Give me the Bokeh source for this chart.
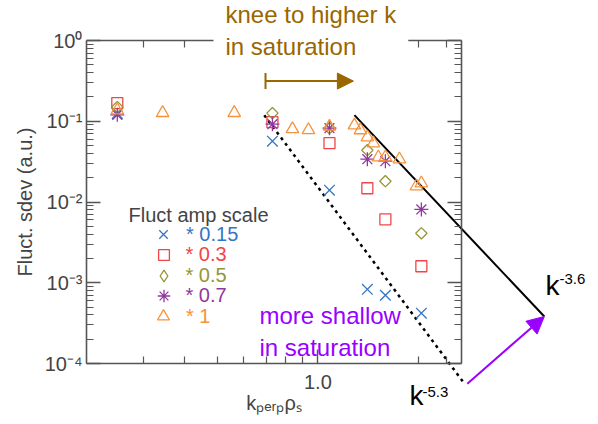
import math
from bokeh.plotting import figure
from bokeh.models import (Range1d, LogAxis, FixedTicker, Label, Arrow, NormalHead,
                          TeeHead, Legend, LegendItem)
from bokeh.embed import file_html
from bokeh.resources import INLINE

# ---------------- data ----------------
k_all = [0.251, 0.731, 1.083, 1.406, 1.592, 2.04]
sdev_015 = [0.125, 0.0567, 0.0140, 0.00083, 0.00070, 0.00042]
sdev_03 = [0.168, 0.0975, 0.0535, 0.0148, 0.0061, 0.0016]
sdev_05 = [0.150, 0.126, 0.082, 0.0438, 0.0181, 0.0041]
sdev_07 = [0.120, 0.092, 0.082, 0.0339, 0.032, 0.0081]
k_amp1 = [0.251, 0.343, 0.562, 0.839, 0.937, 1.083, 1.286, 1.34, 1.406,
          1.466, 1.517, 1.592, 1.754, 1.972, 2.04]
sdev_1 = [0.137, 0.127, 0.127, 0.080, 0.078, 0.086, 0.089, 0.0776, 0.0635,
          0.0535, 0.0359, 0.0359, 0.0339, 0.0157, 0.0171]

amp_labels = ["0.15", "0.3", "0.5", "0.7", "1"]

# reference slope lines / arrows (data coords: start, end)
slope36_k = [1.286, 4.76]
slope36_s = [0.119, 3.82e-4]
slope53_k = [0.691, 2.745]
slope53_s = [0.119, 5.63e-5]
knee_arrow_k = [0.697, 1.277]
knee_arrow_s = [0.3144, 0.3144]
shallow_arrow_k = [2.80, 4.76]
shallow_arrow_s = [5.63e-5, 3.82e-4]

y_major = [1e-4, 1e-3, 1e-2, 1e-1, 1.0]
y_minor = [m * 10.0 ** e for e in range(-4, 0) for m in range(2, 10)]
y_labels = ["10⁻⁴", "10⁻³", "10⁻²", "10⁻¹", "10⁰"]
x_major = [1.0]
x_minor = [0.3, 0.4, 0.5, 0.6, 0.7, 0.8, 0.9, 2.0, 2.43]
x_labels = ["1.0"]

# ---------------- style / layout ----------------
FONT = "Liberation Sans"
BLUE = "#3574c2"
RED = "#f0454a"
OLIVE = "#959535"
PURPLE = "#90399d"
ORANGE = "#f7923a"
BROWN = "#996600"
VIOLET = "#9900ff"
GRAY = "#444444"
AXC = "#555555"

W, H = 598, 424
# axes box (where the four axes are drawn) in canvas pixels
BOX_L, BOX_T, BOX_R, BOX_B = 86, 40, 461, 363
X0, X1 = 0.203, 2.69      # x extent of the axes box
Y0, Y1 = 1e-4, 1.0        # y extent of the axes box

# the plotting frame is the whole canvas so that guide lines / notes may
# run outside the axes box; the axes are pinned to the box edges.
ppd_x = (BOX_R - BOX_L) / math.log10(X1 / X0)
ppd_y = (BOX_B - BOX_T) / math.log10(Y1 / Y0)
XL = X0 * 10 ** (-BOX_L / ppd_x)
XH = X0 * 10 ** ((W - BOX_L) / ppd_x)
YL = Y0 * 10 ** (-(H - BOX_B) / ppd_y)
YH = Y1 * 10 ** (BOX_T / ppd_y)


def sx(px):
    return px


def sy(py):
    return H - py


p = figure(width=W, height=H, x_axis_type="log", y_axis_type="log",
           x_range=Range1d(XL, XH), y_range=Range1d(YL, YH),
           output_backend="svg", toolbar_location=None,
           min_border=0, min_border_left=0, min_border_right=0,
           min_border_top=0, min_border_bottom=0)
p.grid.visible = False
p.outline_line_color = None

bottom_axis = p.below[0]
left_axis = p.left[0]
top_axis = LogAxis()
right_axis = LogAxis()
p.add_layout(top_axis, "above")
p.add_layout(right_axis, "right")

bottom_axis.fixed_location = Y0
top_axis.fixed_location = Y1
left_axis.fixed_location = X0
right_axis.fixed_location = X1
for ax in [bottom_axis, top_axis]:
    ax.ticker = FixedTicker(ticks=x_major, minor_ticks=x_minor)
    ax.bounds = (X0, X1)
for ax in [left_axis, right_axis]:
    ax.ticker = FixedTicker(ticks=y_major, minor_ticks=y_minor)
    ax.bounds = (Y0, Y1)

for ax in [bottom_axis, top_axis, left_axis, right_axis]:
    ax.axis_line_color = AXC
    ax.axis_line_width = 1.6
    ax.major_tick_line_color = AXC
    ax.minor_tick_line_color = AXC
    ax.major_tick_line_width = 1.4
    ax.minor_tick_line_width = 1.2
    ax.major_tick_in = 14
    ax.major_tick_out = 0
    ax.minor_tick_in = 7
    ax.minor_tick_out = 0
    ax.major_label_text_font = FONT
    ax.major_label_text_font_size = "20px"
    ax.major_label_text_color = GRAY
    ax.axis_label_text_font = FONT
    ax.axis_label_text_font_size = "20px"
    ax.axis_label_text_font_style = "normal"
    ax.axis_label_text_color = GRAY

left_axis.major_label_overrides = dict(zip(y_major, y_labels))
left_axis.major_label_standoff = 4
left_axis.axis_label = "Fluct. sdev (a.u.)"
left_axis.axis_label_standoff = 6
right_axis.major_label_overrides = {t: "" for t in y_major}

bottom_axis.major_label_overrides = dict(zip(x_major, x_labels))
bottom_axis.major_label_standoff = 11
bottom_axis.axis_label = "kₚₑᵣₚρₛ"
bottom_axis.axis_label_standoff = 0
top_axis.major_label_overrides = {t: "" for t in x_major}

# ---------------- slope guide lines ----------------
p.line(slope36_k, slope36_s, line_color="black", line_width=2)
p.line(slope53_k, slope53_s, line_color="black", line_width=2.5, line_dash="3 4")

# ---------------- markers ----------------
lw = 1.3
r015 = p.scatter(k_all, sdev_015, marker="x", size=15, line_color=BLUE, line_width=lw)
r03 = p.scatter(k_all, sdev_03, marker="square", size=11, line_color=RED,
                fill_color=None, line_width=lw)
r05 = p.scatter(k_all, sdev_05, marker="square", size=8, angle=math.pi / 4,
                line_color=OLIVE, fill_color=None, line_width=lw)
# legend key for the 0.5 series (legend keys are drawn unrotated)
r05_key = p.scatter(k_all, sdev_05, marker="diamond", line_color=OLIVE,
                    fill_color=None, line_width=lw, visible=False)
r07 = p.scatter(k_all, sdev_07, marker="asterisk", size=14, line_color=PURPLE,
                line_width=lw)
r1 = p.scatter(k_amp1, sdev_1, marker="triangle", size=12.5, line_color=ORANGE,
               fill_color=None, line_width=lw)

# ---------------- legend (IDL style, coloured text) ----------------
legend_rows = [(r015, BLUE, 30), (r03, RED, 27), (r05_key, OLIVE, 29),
               (r07, PURPLE, 31), (r1, ORANGE, 30)]
LEG_GLYPH_X, LEG_LABEL_X, LEG_ROW0, LEG_DY = 163, 186, 234, 20.5
for i, ((rend, col, gsz), lab) in enumerate(zip(legend_rows, amp_labels)):
    cy = LEG_ROW0 + LEG_DY * i
    lg = Legend(items=[LegendItem(label="* " + lab, renderers=[rend])],
                location=(sx(LEG_GLYPH_X - gsz / 2), sy(cy) - gsz / 2),
                padding=0, margin=0, spacing=0, glyph_width=gsz, glyph_height=gsz,
                label_height=gsz, label_standoff=int(LEG_LABEL_X - LEG_GLYPH_X - gsz / 2),
                label_text_font=FONT, label_text_font_size="20px",
                label_text_color=col, background_fill_alpha=0,
                border_line_alpha=0, inactive_fill_alpha=0)
    p.add_layout(lg)

p.add_layout(Label(x=sx(128), y=sy(214), x_units="screen", y_units="screen",
                   text="Fluct amp scale", text_font=FONT, text_font_size="20px",
                   text_color=GRAY, text_baseline="middle"))

# ---------------- annotations ----------------
p.add_layout(Label(x=sx(213), y=sy(-12), x_units="screen", y_units="screen",
                   text="knee to higher k\nin saturation", text_font=FONT,
                   text_font_size="24px", text_color=BROWN, text_baseline="top",
                   background_fill_color="white", padding=12))
p.add_layout(Arrow(start=TeeHead(size=16, line_color=BROWN, line_width=2),
                   end=NormalHead(size=16, fill_color=BROWN, line_color=BROWN),
                   x_start=knee_arrow_k[0], y_start=knee_arrow_s[0],
                   x_end=knee_arrow_k[1], y_end=knee_arrow_s[1],
                   line_color=BROWN, line_width=2))

p.add_layout(Label(x=sx(259), y=sy(331), x_units="screen", y_units="screen",
                   text="more shallow\nin saturation", text_font=FONT,
                   text_font_size="24px", text_color=VIOLET, text_baseline="middle"))
p.add_layout(Arrow(end=NormalHead(size=17, fill_color=VIOLET, line_color=VIOLET),
                   x_start=shallow_arrow_k[0], y_start=shallow_arrow_s[0],
                   x_end=shallow_arrow_k[1], y_end=shallow_arrow_s[1],
                   line_color=VIOLET, line_width=2))

for kx, ky, supx, supy, sup in [(545, 284.5, 559, 278, "-3.6"),
                                (409, 394.5, 422, 391, "-5.3")]:
    p.add_layout(Label(x=sx(kx), y=sy(ky), x_units="screen", y_units="screen",
                       text="k", text_font=FONT, text_font_size="28px",
                       text_color="black", text_baseline="middle"))
    p.add_layout(Label(x=sx(supx), y=sy(supy), x_units="screen", y_units="screen",
                       text=sup, text_font=FONT, text_font_size="15px",
                       text_color="black", text_baseline="middle"))

open("out.html", "w").write(file_html(p, INLINE))
